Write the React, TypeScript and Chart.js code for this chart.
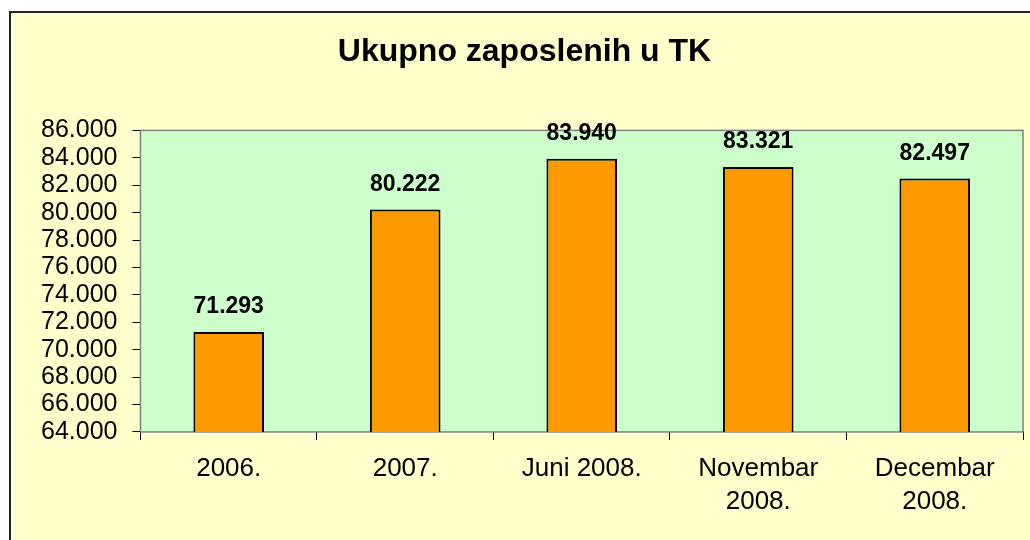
import { useEffect, useRef } from 'react';
import { Chart, registerables } from 'chart.js';

Chart.register(...registerables);

const titleText = 'Ukupno zaposlenih u TK';
const categories: (string | string[])[] = ['2006.', '2007.', 'Juni 2008.', ['Novembar', '2008.'], ['Decembar', '2008.']];
const values = [71293, 80222, 83940, 83321, 82497];
const yMin = 64000;
const yMax = 86000;
const yStep = 2000;

const FONT = '"Liberation Sans", Arial, Helvetica, sans-serif';

function fmt(v: number): string {
  const th = Math.floor(v / 1000);
  const rest = Math.round(v - th * 1000);
  return th + '.' + String(rest).padStart(3, '0');
}

const plotBgPlugin = {
  id: 'plotBg',
  beforeDatasetsDraw(chart: any) {
    const { ctx, chartArea } = chart;
    ctx.save();
    ctx.fillStyle = '#CCFFCC';
    ctx.fillRect(chartArea.left, chartArea.top, chartArea.right - chartArea.left, chartArea.bottom - chartArea.top);
    ctx.strokeStyle = '#808080';
    ctx.lineWidth = 1.5;
    ctx.strokeRect(chartArea.left, chartArea.top, chartArea.right - chartArea.left, chartArea.bottom - chartArea.top);
    ctx.restore();
  },
};

const valueLabelPlugin = {
  id: 'valueLabels',
  afterDatasetsDraw(chart: any) {
    const { ctx } = chart;
    const meta = chart.getDatasetMeta(0);
    const data = chart.data.datasets[0].data as number[];
    ctx.save();
    ctx.font = 'bold 23px ' + FONT;
    ctx.fillStyle = '#000';
    ctx.textAlign = 'center';
    ctx.textBaseline = 'middle';
    meta.data.forEach((bar: any, i: number) => {
      ctx.fillText(fmt(data[i]), bar.x, bar.y - 25);
    });
    ctx.restore();
  },
};

export default function App() {
  const ref = useRef<HTMLCanvasElement | null>(null);

  useEffect(() => {
    if (!ref.current) return;
    Chart.defaults.font.family = FONT;
    const chart = new Chart(ref.current, {
      type: 'bar',
      data: {
        labels: categories,
        datasets: [
          {
            data: values,
            backgroundColor: '#FF9900',
            borderColor: '#000000',
            borderWidth: 2,
            categoryPercentage: 1,
            barPercentage: 0.4,
          },
        ],
      },
      options: {
        animation: false,
        responsive: true,
        maintainAspectRatio: false,
        layout: { padding: { left: 15, right: 18, top: 0, bottom: 10 } },
        plugins: {
          legend: { display: false },
          tooltip: { enabled: false },
          title: {
            display: true,
            text: titleText,
            color: '#000',
            font: { size: 32, weight: 'bold', family: FONT },
            padding: { top: 20, bottom: 59 },
          },
        },
        scales: {
          x: {
            grid: {
              drawOnChartArea: false,
              drawTicks: true,
              tickLength: 8,
              color: '#000',
              offset: true,
            },
            border: { color: '#000', width: 1 },
            ticks: {
              color: '#000',
              font: { size: 26, family: FONT, lineHeight: 1.27 },
              padding: 12,
              maxRotation: 0,
              autoSkip: false,
            },
          },
          y: {
            min: yMin,
            max: yMax,
            grid: {
              drawOnChartArea: false,
              drawTicks: true,
              tickLength: 8,
              color: '#000',
            },
            border: { color: '#000', width: 1 },
            ticks: {
              stepSize: yStep,
              color: '#000',
              font: { size: 25, family: FONT },
              padding: 15,
              autoSkip: false,
              callback: (v: any) => fmt(Number(v)),
            },
          },
        },
      },
      plugins: [plotBgPlugin, valueLabelPlugin],
    });
    return () => chart.destroy();
  }, []);

  return (
    <div style={{ position: 'fixed', left: 0, top: 0, width: 1030, height: 540, background: '#fff', overflow: 'hidden' }}>
      <div
        style={{
          position: 'absolute',
          left: 9,
          top: 11,
          width: 1040,
          height: 540,
          borderLeft: '2px solid #222',
          borderTop: '2px solid #222',
          background: '#FFFFCC',
        }}
      >
        <div style={{ position: 'relative', width: 1030, height: 527 }}>
          <canvas ref={ref} />
        </div>
      </div>
    </div>
  );
}
